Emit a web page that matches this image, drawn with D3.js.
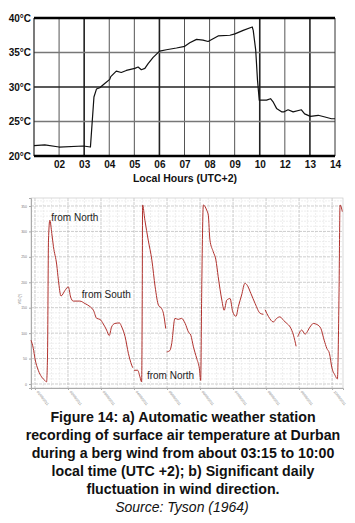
<!DOCTYPE html>
<html>
<head>
<meta charset="utf-8">
<script src="https://cdn.jsdelivr.net/npm/d3@7"></script>
<style>
  html, body { margin: 0; padding: 0; background: #fff; }
  svg { display: block; font-family: "Liberation Sans", Arial, sans-serif; }
</style>
</head>
<body>
<svg id="chart" width="355" height="523"></svg>
<script>
// ---------- Panel a: temperature ----------
const hourLabels = ["", "02", "03", "04", "05", "06", "07", "08", "09", "10", "12", "13", "14"];
const tempTicks = [20, 25, 30, 35, 40];
const tempHour = [0, 0.43, 1.0, 1.97, 2.25, 2.39, 2.49, 2.62, 2.82, 3.02, 3.06, 3.28, 3.48, 3.68, 4.02, 4.15, 4.28, 4.42, 4.55, 4.75, 5.01, 5.28, 5.68, 6.01, 6.21, 6.48, 6.74, 6.94, 7.14, 7.34, 7.81, 8.01, 8.34, 8.70, 8.74, 8.84, 8.91, 8.98, 9.27, 9.43, 9.54, 9.67, 9.87, 9.97, 10.13, 10.33, 10.66, 10.79, 11.02, 11.33, 11.60, 11.86, 12.0];
const tempC = [21.5, 21.6, 21.3, 21.45, 21.3, 28.55, 29.7, 29.9, 30.5, 31.1, 31.5, 32.3, 32.1, 32.4, 32.7, 32.9, 32.5, 32.7, 33.4, 34.3, 35.2, 35.4, 35.65, 35.9, 36.4, 36.9, 36.8, 36.6, 37.0, 37.4, 37.5, 37.7, 38.2, 38.7, 38.2, 35.3, 31.0, 28.1, 28.1, 28.3, 27.8, 26.9, 26.4, 26.4, 26.7, 26.4, 26.7, 26.1, 25.75, 25.9, 25.65, 25.4, 25.4];
const majorHourIdx = [2, 5, 9, 11];

// ---------- Panel b: wind direction ----------
const windTickLabels = ["01/08/2011", "02/08/2011", "03/08/2011", "04/08/2011", "05/08/2011", "06/08/2011", "07/08/2011", "08/08/2011", "09/08/2011", "10/08/2011"];
const windYTicks = [0, 50, 100, 150, 200, 250, 300, 350];
const windT = [-0.12, -0.05, 0, 0.10, 0.20, 0.30, 0.35, 0.38, 0.41, 0.45, 0.51, 0.56, 0.66, 0.71, 0.79, 0.91, 1.01, 1.08, 1.16, 1.36, 1.52, 1.67, 1.77, 1.87, 1.97, 2.07, 2.17, 2.25, 2.32, 2.42, 2.56, 2.63, 2.73, 2.83, 2.93, 2.96,
  2.98, 3.0, 3.11, 3.18, 3.23, 3.25, 3.26, 3.33, 3.43, 3.54, 3.64, 3.74, 3.84, 3.89, 3.96,
  3.975, 3.99, 4.09, 4.14, 4.24, 4.34, 4.44, 4.55, 4.65, 4.72, 4.80, 4.90, 4.98, 5.02, 5.05, 5.10, 5.20, 5.25, 5.30, 5.40, 5.48, 5.55, 5.66, 5.73, 5.81, 5.91, 5.99, 6.09, 6.16, 6.26, 6.36, 6.43, 6.54, 6.67, 6.82, 6.92,
  6.945, 6.97, 7.07, 7.22, 7.32, 7.42, 7.53, 7.63, 7.73, 7.83, 7.91,
  7.935, 7.96, 8.08, 8.18, 8.33, 8.43, 8.54, 8.66, 8.76, 8.84, 8.92, 8.99, 9.09, 9.16, 9.21, 9.24, 9.31];
const windDir = [86, 70, 50, 27, 14, 7, 4, 53, 283, 322, 296, 270, 234, 204, 173, 184, 191, 171, 163, 163, 158, 152, 145, 129, 127, 118, 106, 95, 112, 119, 120, 112, 93, 60, 37, 32,
  null, 27, 27, 14, 4, 184, 352, 322, 283, 244, 191, 155, 148, 139, 109,
  null, 63, 66, 79, 129, 127, 129, 119, 102, 96, 73, 50, 30, 7, 180, 352, 342, 332, 283, 260, 244, 211, 165, 145, 165, 168, 142, 133, 152, 175, 198, 194, 178, 158, 139, 137,
  null, 146, 133, 122, 129, 132, 125, 119, 112, 96, 74,
  null, 93, 106, 98, 112, 119, 117, 109, 86, 70, 60, 33, 17, 10, 180, 352, 339];
const windNotes = ["from North", "from South", "from North"];
const windNoteT = [0.49, 1.42, 3.39];
const windNoteV = [320, 170, 10];

const captionLines = [
  "Figure 14: a) Automatic weather station",
  "recording of surface air temperature at Durban",
  "during a berg wind from about 03:15 to 10:00",
  "local time (UTC +2); b) Significant daily",
  "fluctuation in wind direction."
];
const sourceLine = "Source: Tyson (1964)";

const svg = d3.select("#chart");

// ===== Panel a =====
const xa = d3.scaleLinear().domain([0, 12]).range([34, 335]);
const ya = d3.scaleLinear().domain([20, 40]).range([156, 18]);
const ga = svg.append("g");

ga.selectAll("line.vg").data(d3.range(1, 12)).join("line")
  .attr("x1", d => xa(d)).attr("x2", d => xa(d))
  .attr("y1", ya(40)).attr("y2", ya(20))
  .attr("stroke", d => majorHourIdx.includes(d) ? "#222" : "#555")
  .attr("stroke-width", d => majorHourIdx.includes(d) ? 1.6 : 1);
ga.selectAll("line.hg").data([25, 30, 35]).join("line")
  .attr("x1", xa(0)).attr("x2", xa(12))
  .attr("y1", d => ya(d)).attr("y2", d => ya(d))
  .attr("stroke", d => d === 30 ? "#222" : "#777")
  .attr("stroke-width", d => d === 30 ? 1.3 : 1.6);
ga.append("line").attr("x1", xa(0)).attr("x2", xa(0)).attr("y1", ya(40)).attr("y2", ya(20)).attr("stroke", "#222").attr("stroke-width", 1.2);
ga.append("line").attr("x1", xa(12)).attr("x2", xa(12)).attr("y1", ya(40)).attr("y2", ya(20)).attr("stroke", "#333").attr("stroke-width", 1);
ga.append("line").attr("x1", xa(0)).attr("x2", xa(12)).attr("y1", ya(40)).attr("y2", ya(40)).attr("stroke", "#000").attr("stroke-width", 2.4);
ga.append("line").attr("x1", xa(0)).attr("x2", xa(12)).attr("y1", ya(20)).attr("y2", ya(20)).attr("stroke", "#000").attr("stroke-width", 2.4);

const axA = d3.axisBottom(xa).tickValues(d3.range(0, 13)).tickFormat(i => hourLabels[i]).tickSize(0).tickPadding(4);
const gx = ga.append("g").attr("transform", `translate(0,${ya(20) + 1})`).call(axA);
gx.select(".domain").remove();
gx.selectAll("text").attr("font-size", 10).attr("font-weight", "bold").attr("fill", "#111")
  .attr("font-family", "Liberation Sans, Arial, sans-serif");

const ayA = d3.axisLeft(ya).tickValues(tempTicks).tickFormat(d => d + "°C").tickSize(0).tickPadding(3);
const gy = ga.append("g").attr("transform", `translate(${xa(0)},0)`).call(ayA);
gy.select(".domain").remove();
gy.selectAll("text").attr("font-size", 10).attr("font-weight", "bold").attr("fill", "#111")
  .attr("font-family", "Liberation Sans, Arial, sans-serif");

ga.append("text").attr("x", 185).attr("y", 182).attr("text-anchor", "middle")
  .attr("font-size", 10.5).attr("font-weight", "bold").attr("fill", "#111")
  .text("Local Hours (UTC+2)");

const tempLine = d3.line().x((d, i) => xa(tempHour[i])).y(d => ya(d));
ga.append("path").datum(tempC).attr("d", tempLine)
  .attr("fill", "none").attr("stroke", "#111").attr("stroke-width", 1.2).attr("stroke-linejoin", "round");

// ===== Panel b =====
const xb = d3.scaleLinear().domain([-0.12, 9.33]).range([31, 343]);
const yb = d3.scaleLinear().domain([-7.9, 365.7]).range([388, 198]);
const gb = svg.append("g");

const minorX = d3.range(0, 37).map(k => k * 0.25).filter(t => t <= 9.33 && t % 1 !== 0);
gb.selectAll("line.mx").data(minorX).join("line")
  .attr("x1", d => xb(d)).attr("x2", d => xb(d)).attr("y1", 198).attr("y2", 388)
  .attr("stroke", "#e2e2e2").attr("stroke-width", 0.6).attr("stroke-dasharray", "2,1");
const minorY = d3.range(0, 366, 10).filter(v => v % 50 !== 0);
gb.selectAll("line.my").data(minorY).join("line")
  .attr("x1", 31).attr("x2", 343).attr("y1", d => yb(d)).attr("y2", d => yb(d))
  .attr("stroke", "#e2e2e2").attr("stroke-width", 0.6).attr("stroke-dasharray", "2,1");
gb.selectAll("line.Mx").data(d3.range(0, 10)).join("line")
  .attr("x1", d => xb(d)).attr("x2", d => xb(d)).attr("y1", 198).attr("y2", 388)
  .attr("stroke", "#b8b8b8").attr("stroke-width", 0.7).attr("stroke-dasharray", "3,1");
gb.selectAll("line.My").data(windYTicks).join("line")
  .attr("x1", 31).attr("x2", 343).attr("y1", d => yb(d)).attr("y2", d => yb(d))
  .attr("stroke", "#b8b8b8").attr("stroke-width", 0.7).attr("stroke-dasharray", "3,1");
gb.append("rect").attr("x", 31).attr("y", 198).attr("width", 312).attr("height", 190)
  .attr("fill", "none").attr("stroke", "#c8c8c8").attr("stroke-width", 0.7);

const ayB = d3.axisLeft(yb).tickValues(windYTicks).tickSize(2).tickPadding(2);
const gyb = gb.append("g").attr("transform", "translate(31,0)").call(ayB);
gyb.select(".domain").attr("stroke", "#aaa");
gyb.selectAll(".tick line").attr("stroke", "#aaa");
gyb.selectAll("text").attr("font-size", 3.5).attr("fill", "#777");
gb.append("text").attr("transform", "translate(21,299) rotate(-90)").attr("text-anchor", "middle")
  .attr("font-size", 3.5).attr("fill", "#777").text("WD (°)");

const axB = d3.axisBottom(xb).tickValues(d3.range(0, 10)).tickFormat(i => windTickLabels[i]).tickSize(2).tickPadding(2);
const gxb = gb.append("g").attr("transform", "translate(0,388)").call(axB);
gxb.select(".domain").attr("stroke", "#aaa");
gxb.selectAll(".tick line").attr("stroke", "#aaa");
gxb.selectAll("text").attr("font-size", 3.5).attr("fill", "#888")
  .attr("text-anchor", "start").attr("dy", 0).attr("y", 0)
  .attr("transform", "translate(1,4) rotate(52)");

const windLine = d3.line().defined(d => d !== null).curve(d3.curveMonotoneX).x((d, i) => xb(windT[i])).y(d => yb(d));
gb.append("path").datum(windDir).attr("d", windLine)
  .attr("fill", "none").attr("stroke", "#b0312d").attr("stroke-width", 1).attr("stroke-linejoin", "round");

gb.selectAll("text.note").data(windNotes).join("text")
  .attr("x", (d, i) => xb(windNoteT[i])).attr("y", (d, i) => yb(windNoteV[i]))
  .attr("font-size", 10).attr("fill", "#222").text(d => d);

// ===== Caption =====
const gc = svg.append("g");
gc.selectAll("text.cap").data(captionLines).join("text")
  .attr("x", 183).attr("y", (d, i) => 422 + i * 18.1)
  .attr("text-anchor", "middle").attr("font-size", 14.2).attr("font-weight", "bold").attr("fill", "#111")
  .text(d => d);
gc.append("text").attr("x", 182).attr("y", 512).attr("text-anchor", "middle")
  .attr("font-size", 14).attr("font-style", "italic").attr("fill", "#111").text(sourceLine);
</script>
</body>
</html>
